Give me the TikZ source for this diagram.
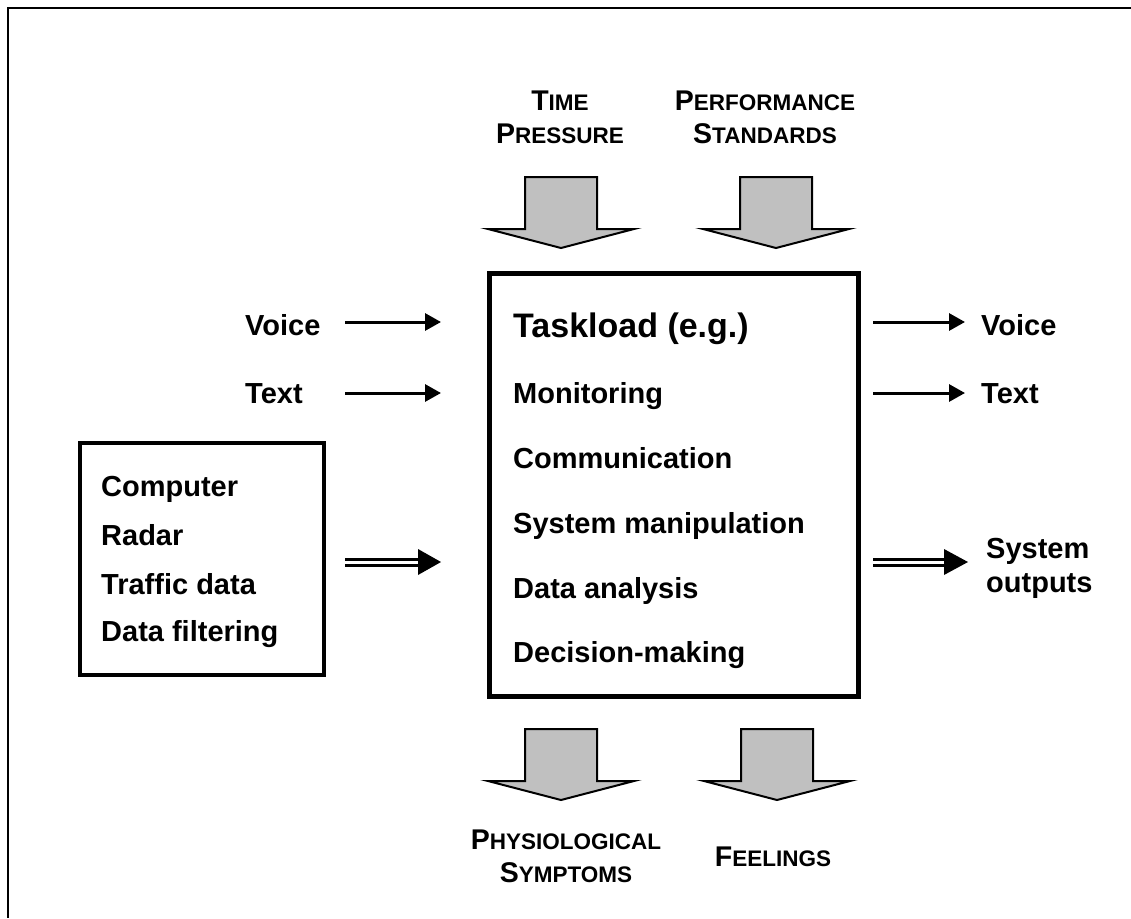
\documentclass[tikz,border=0pt]{standalone}
\usepackage{fontspec}
\setmainfont{Liberation Sans}
\usetikzlibrary{arrows.meta,calc}
\definecolor{arrowgray}{HTML}{C0C0C0}
\newcommand\scBig{\fontsize{28.5}{33}\selectfont}
\newcommand\scSmall{\fontsize{22.5}{33}\selectfont}
\tikzset{
  lbl/.style={font=\fontsize{29}{34}\selectfont\bfseries, anchor=base west, inner sep=0pt},
  biglbl/.style={font=\fontsize{34}{40}\selectfont\bfseries, anchor=base west, inner sep=0pt},
  sclbl/.style={font=\fontsize{22.5}{33}\selectfont\bfseries, align=center, inner sep=0pt},
  thinarrow/.style={line width=3pt, -{Triangle[length=16pt,width=17pt]}},
  dblline/.style={line width=3pt, double, double distance=3pt},
  blockarrow/.style={fill=arrowgray, draw=black, line width=2pt, line join=miter},
  boxframe/.style={draw=black, fill=none}
}
\begin{document}
\begin{tikzpicture}[x=1pt,y=-1pt]
\useasboundingbox (0,0) rectangle (1131,918);
% outer frame
\draw[line width=2.5pt] (1131,8) -- (8,8) -- (8,918);

% main box
\node[boxframe, line width=5pt, minimum width=369pt, minimum height=423pt, anchor=north west, inner sep=0pt] (main) at (487,271) {};
\node[biglbl] (t0) at (513,337) {Taskload (e.g.)};
\node[lbl] (t1) at (513,403) {Monitoring};
\node[lbl] (t2) at (513,468) {Communication};
\node[lbl] (t3) at (513,533) {System manipulation};
\node[lbl] (t4) at (513,598) {Data analysis};
\node[lbl] (t5) at (513,662) {Decision-making};

% left box
\node[boxframe, line width=4pt, minimum width=244pt, minimum height=232pt, anchor=north west, inner sep=0pt] (src) at (78,441) {};
\node[lbl] (s1) at (101,496) {Computer};
\node[lbl] (s2) at (101,545) {Radar};
\node[lbl] (s3) at (101,594) {Traffic data};
\node[lbl] (s4) at (101,641) {Data filtering};

% left inputs
\node[lbl] (vin) at (245,335) {Voice};
\node[lbl] (tin) at (245,403) {Text};
\coordinate (vin0) at (345,322); \coordinate (vin1) at (441,322);
\coordinate (tin0) at (345,393); \coordinate (tin1) at (441,393);
\draw[thinarrow] (vin0) -- (vin1);
\draw[thinarrow] (tin0) -- (tin1);

% right outputs
\node[lbl] (vout) at (981,335) {Voice};
\node[lbl] (tout) at (981,403) {Text};
\coordinate (vout0) at (873,322); \coordinate (vout1) at (965,322);
\coordinate (tout0) at (873,393); \coordinate (tout1) at (965,393);
\draw[thinarrow] (vout0) -- (vout1);
\draw[thinarrow] (tout0) -- (tout1);

% double arrows
\coordinate (dl0) at (345,562); \coordinate (dl1) at (418,562); \coordinate (dl2) at (441,562);
\draw[dblline] (dl0) -- (dl1);
\fill ($(dl1)+(0,-13)$) -- (dl2) -- ($(dl1)+(0,13)$) -- cycle;
\coordinate (dr0) at (873,562); \coordinate (dr1) at (944,562); \coordinate (dr2) at (968,562);
\draw[dblline] (dr0) -- (dr1);
\fill ($(dr1)+(0,-13)$) -- (dr2) -- ($(dr1)+(0,13)$) -- cycle;
\node[lbl, anchor=base west, align=left] (sysout) at (986,592) {System\\outputs};

% top labels
\node[sclbl] (tp) at (560,117) {\scBig T\scSmall IME\\\scBig P\scSmall RESSURE};
\node[sclbl] (ps) at (765,117) {\scBig P\scSmall ERFORMANCE\\\scBig S\scSmall TANDARDS};
% bottom labels
\node[sclbl] (phys) at (566,856) {\scBig P\scSmall HYSIOLOGICAL\\\scBig S\scSmall YMPTOMS};
\node[sclbl] (feel) at (773,857) {\scBig F\scSmall EELINGS};

% block arrows
\foreach \cx/\ty in {561/177, 776/177, 561/729, 777/729}{
  \draw[blockarrow] (\cx-36,\ty) -- (\cx+36,\ty) -- (\cx+36,\ty+52) -- (\cx+73,\ty+52)
     -- (\cx,\ty+71) -- (\cx-73,\ty+52) -- (\cx-36,\ty+52) -- cycle;
}
\end{tikzpicture}
\end{document}
